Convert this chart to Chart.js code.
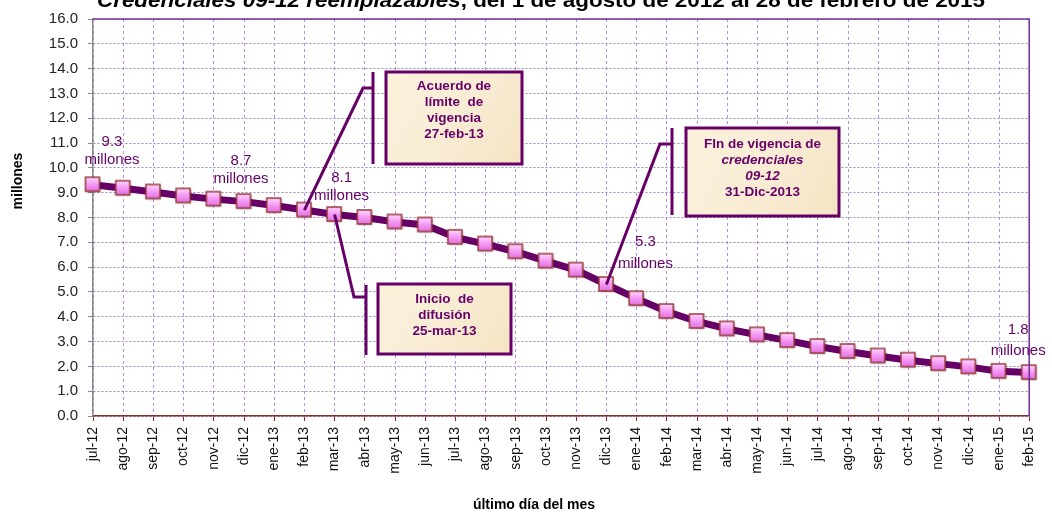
<!DOCTYPE html>
<html lang="es">
<head>
<meta charset="UTF-8">
<title>Credenciales 09-12 reemplazables</title>
<script src="https://cdn.jsdelivr.net/npm/chart.js"></script>
<style>
  body { margin: 0; background: #fff; }
  canvas { display: block; }
</style>
</head>
<body>
<canvas id="chart" width="1052" height="514"></canvas>
<script>
// categories: last day of each month
const months = ['jul-12', 'ago-12', 'sep-12', 'oct-12', 'nov-12', 'dic-12',
  'ene-13', 'feb-13', 'mar-13', 'abr-13', 'may-13', 'jun-13', 'jul-13', 'ago-13',
  'sep-13', 'oct-13', 'nov-13', 'dic-13', 'ene-14', 'feb-14', 'mar-14', 'abr-14',
  'may-14', 'jun-14', 'jul-14', 'ago-14', 'sep-14', 'oct-14', 'nov-14', 'dic-14',
  'ene-15', 'feb-15'];

// credenciales vigentes (millones)
const credenciales = [9.32, 9.18, 9.03, 8.87, 8.74, 8.64, 8.48, 8.30, 8.12, 8.00,
  7.82, 7.70, 7.20, 6.93, 6.62, 6.24, 5.88, 5.30, 4.73, 4.21, 3.81, 3.51,
  3.27, 3.04, 2.80, 2.60, 2.42, 2.25, 2.11, 1.98, 1.80, 1.75];

// value labels: category index and text
const labelIdx = [0, 5, 8, 17, 31];
const labelTop = ['9.3', '8.7', '8.1', '5.3', '1.8'];

// callout boxes: anchor category index and text lines
const noteIdx = [7, 8, 17];
const noteText = [
  ['Acuerdo de', 'límite  de', 'vigencia', '27-feb-13'],
  ['Inicio  de', 'difusión', '25-mar-13'],
  ['FIn de vigencia de', 'credenciales', '09-12', '31-Dic-2013']
];

const PURPLE = '#660066';

// square marker with pink gradient
function makeMarker() {
  const c = document.createElement('canvas');
  c.width = 19; c.height = 19;
  const g = c.getContext('2d');
  g.shadowColor = 'rgba(0,0,0,0.35)';
  g.shadowBlur = 2;
  g.shadowOffsetX = 1;
  g.shadowOffsetY = 1;
  const grad = g.createLinearGradient(0, 2, 0, 16);
  grad.addColorStop(0, '#ffd8ff');
  grad.addColorStop(0.5, '#f59af5');
  grad.addColorStop(1, '#e070e0');
  g.fillStyle = grad;
  g.fillRect(2, 2, 14, 14);
  g.shadowColor = 'transparent';
  g.strokeStyle = '#9b3a3a';
  g.lineWidth = 1.5;
  g.strokeRect(2, 2, 14, 14);
  return c;
}

function drawBox(ctx, x0, y0, x1, y1, lines, lineY, italicLines) {
  const grad = ctx.createLinearGradient(x0, y0, x1, y1);
  grad.addColorStop(0, '#fbf2dc');
  grad.addColorStop(0.5, '#f8ecd4');
  grad.addColorStop(1, '#f4e4c4');
  ctx.fillStyle = grad;
  ctx.fillRect(x0, y0, x1 - x0, y1 - y0);
  ctx.strokeStyle = PURPLE;
  ctx.lineWidth = 3;
  ctx.strokeRect(x0, y0, x1 - x0, y1 - y0);
  ctx.fillStyle = PURPLE;
  ctx.textAlign = 'center';
  ctx.textBaseline = 'middle';
  const cx = (x0 + x1) / 2;
  lines.forEach((t, i) => {
    const it = italicLines && italicLines.indexOf(i) >= 0;
    ctx.font = (it ? 'italic ' : '') + 'bold 13.5px "Liberation Sans", Arial, sans-serif';
    ctx.fillText(t, cx, lineY[i]);
  });
}

function polyline(ctx, pts) {
  ctx.beginPath();
  ctx.moveTo(pts[0][0], pts[0][1]);
  for (let i = 1; i < pts.length; i++) ctx.lineTo(pts[i][0], pts[i][1]);
  ctx.stroke();
}

const extras = {
  id: 'extras',
  beforeDraw(chart) {
    const ctx = chart.ctx;
    ctx.save();
    ctx.fillStyle = '#fff';
    ctx.fillRect(0, 0, chart.width, chart.height);
    ctx.restore();
  },
  afterDraw(chart) {
    const ctx = chart.ctx;
    const area = chart.chartArea;
    const xs = chart.scales.x, ys = chart.scales.y;
    const px = i => xs.getPixelForValue(i);
    const py = i => ys.getPixelForValue(credenciales[i]);
    ctx.save();

    // top and right frame of plot area
    ctx.strokeStyle = '#7030a0';
    ctx.lineWidth = 1.5;
    polyline(ctx, [[area.left, area.top], [area.right, area.top], [area.right, area.bottom]]);

    // title (cut at the top edge)
    const t1 = 'Credenciales 09-12 reemplazables';
    const t2 = ', del 1 de agosto de 2012 al 28 de febrero de 2015';
    const f1 = 'italic bold 20px "Liberation Sans", Arial, sans-serif';
    const f2 = 'bold 20px "Liberation Sans", Arial, sans-serif';
    ctx.font = f1; const w1 = ctx.measureText(t1).width;
    ctx.font = f2; const w2 = ctx.measureText(t2).width;
    const sx = 888 / (w1 + w2);
    ctx.save();
    ctx.translate(97, 7);
    ctx.scale(sx, 1);
    ctx.fillStyle = '#000';
    ctx.textAlign = 'left';
    ctx.textBaseline = 'alphabetic';
    ctx.font = f1; ctx.fillText(t1, 0, 0);
    ctx.font = f2; ctx.fillText(t2, w1, 0);
    ctx.restore();

    // axis titles
    ctx.fillStyle = '#000';
    ctx.font = 'bold 14px "Liberation Sans", Arial, sans-serif';
    ctx.textAlign = 'center';
    ctx.textBaseline = 'middle';
    ctx.fillText('último día del mes', 534, 505);
    ctx.save();
    ctx.translate(18, 181);
    ctx.rotate(-Math.PI / 2);
    ctx.fillText('millones', 0, 0);
    ctx.restore();

    // value labels
    const ldx = [19, -3, 7, 39, -11];
    const ldy = [[-43, -25], [-41, -23], [-37, -19], [-43, -21], [-43, -22]];
    ctx.fillStyle = PURPLE;
    ctx.font = '15px "Liberation Sans", Arial, sans-serif';
    labelIdx.forEach((idx, k) => {
      const x = px(idx) + ldx[k], y = py(idx);
      ctx.fillText(labelTop[k], x, y + ldy[k][0]);
      ctx.fillText('millones', x, y + ldy[k][1]);
    });

    // callouts
    ctx.strokeStyle = PURPLE;
    ctx.lineWidth = 3;
    ctx.lineJoin = 'miter';
    // 1: acuerdo de límite de vigencia
    let i = noteIdx[0];
    polyline(ctx, [[px(i), py(i)], [363, 88], [373, 88]]);
    polyline(ctx, [[373, 72], [373, 164]]);
    // 2: inicio de difusión
    i = noteIdx[1];
    polyline(ctx, [[px(i), py(i)], [354, 297], [366, 297]]);
    polyline(ctx, [[366, 285], [366, 355]]);
    // 3: fin de vigencia
    i = noteIdx[2];
    polyline(ctx, [[px(i), py(i)], [660, 144], [672, 144]]);
    polyline(ctx, [[672, 128], [672, 215]]);

    drawBox(ctx, 386, 72, 522, 164, noteText[0], [86, 102, 118, 134]);
    drawBox(ctx, 378, 284, 511, 354, noteText[1], [299, 315, 331]);
    drawBox(ctx, 686, 128, 839, 216, noteText[2], [144, 160, 176, 192], [1, 2]);

    ctx.restore();
  }
};

new Chart(document.getElementById('chart'), {
  type: 'line',
  data: {
    labels: months,
    datasets: [{
      label: 'Credenciales 09-12',
      data: credenciales,
      borderColor: PURPLE,
      borderWidth: 7,
      tension: 0,
      pointStyle: makeMarker(),
      pointRadius: 7,
      pointHoverRadius: 7
    }]
  },
  options: {
    responsive: false,
    animation: false,
    devicePixelRatio: 1,
    layout: { padding: { top: 16, right: 19, left: 0, bottom: 0 } },
    plugins: {
      legend: { display: false },
      title: { display: false },
      tooltip: { enabled: false }
    },
    scales: {
      x: {
        offset: false,
        afterFit(scale) { scale.height = 98; },
        grid: {
          color: '#b98ee8',
          lineWidth: 1,
          tickLength: 5,
          tickColor: '#8b2a2a',
          tickBorderDash: []
        },
        border: { display: true, color: '#8b2a2a', width: 1.5, dash: [3, 3] },
        ticks: {
          autoSkip: false,
          maxRotation: 90,
          minRotation: 90,
          padding: 6,
          color: '#111',
          font: { family: '"Liberation Sans", Arial, sans-serif', size: 14 }
        }
      },
      y: {
        min: 0,
        max: 16,
        afterFit(scale) { scale.width = 93; },
        grid: {
          color: '#9a88bc',
          lineWidth: 1,
          tickLength: 5,
          tickColor: '#888',
          tickBorderDash: []
        },
        border: { display: true, color: '#888', width: 1.5, dash: [2, 2] },
        ticks: {
          stepSize: 1,
          padding: 10,
          color: '#222',
          font: { family: '"Liberation Sans", Arial, sans-serif', size: 15 },
          callback: v => v.toFixed(1)
        }
      }
    }
  },
  plugins: [extras]
});
</script>
</body>
</html>
